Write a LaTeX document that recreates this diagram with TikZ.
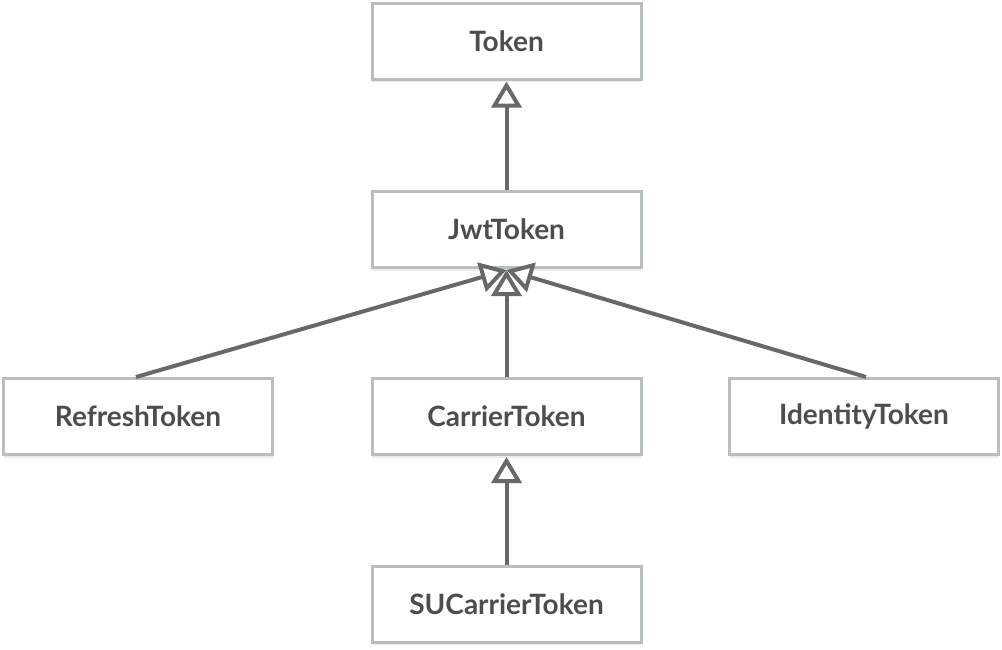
\documentclass[tikz,border=0pt]{standalone}
\usepackage{fontspec}
\setmainfont{Lato}
\usetikzlibrary{arrows.meta,shadows}
\definecolor{boxline}{HTML}{B9BEBE}
\definecolor{txt}{HTML}{4B4D4E}
\definecolor{conn}{HTML}{666869}
\tikzset{
  cls/.style={draw=boxline, line width=3pt, fill=white, minimum width=269pt, minimum height=76pt,
    inner sep=0pt, font=\fontsize{28}{32}\selectfont\bfseries, text=txt,
    drop shadow={shadow xshift=0pt, shadow yshift=-3pt, fill=black, opacity=0.08}},
  inherit/.style={draw=conn, line width=4pt,
    -{Triangle[length=26pt, width=30pt, fill=white]}}
}
\begin{document}
\begin{tikzpicture}[x=1pt,y=-1pt]
\useasboundingbox (0,0) rectangle (1002,649);
\node[cls] (token) at (506.5,41) {Token};
\node[cls] (jwt) at (506.5,229.5) {JwtToken};
\node[cls] (refresh) at (138,416.5) {RefreshToken};
\node[cls] (carrier) at (506.5,416.5) {CarrierToken};
\node[cls] (identity) at (864,416.5) {IdentityToken};
\node[cls] (su) at (506.5,604) {SUCarrierToken};
\draw[inherit] (jwt.north) -- ([yshift=-1pt]token.south);
\draw[inherit] ([xshift=-2pt]refresh.north) -- ([yshift=-1pt]jwt.south);
\draw[inherit] ([xshift=2pt]identity.north) -- ([yshift=-1pt]jwt.south);
\draw[inherit] (carrier.north) -- ([yshift=-1pt]jwt.south);
\draw[inherit] (su.north) -- ([yshift=-1pt]carrier.south);
\end{tikzpicture}
\end{document}
